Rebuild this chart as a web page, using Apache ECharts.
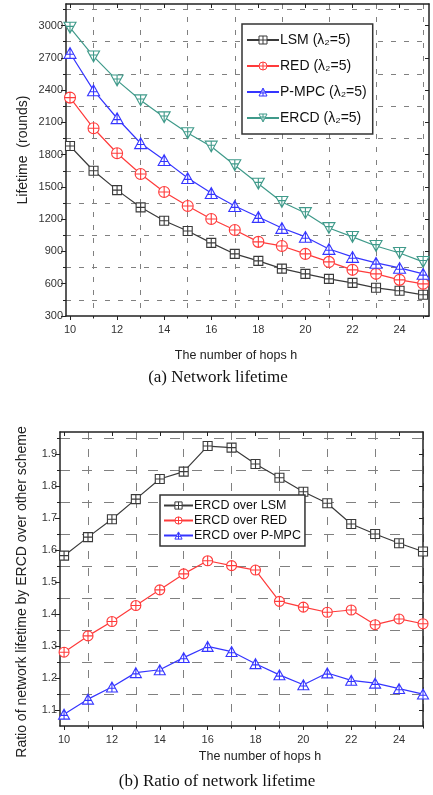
<!DOCTYPE html>
<html>
<head>
<meta charset="utf-8">
<style>
  html, body { margin: 0; padding: 0; background: #fff; }
  #chart { width: 433px; height: 795px; }
</style>
<script src="https://cdn.jsdelivr.net/npm/echarts@6/dist/echarts.min.js"></script>
</head>
<body>
<div id="chart"></div>
<script>
// Number of hops h
const hops = [10, 11, 12, 13, 14, 15, 16, 17, 18, 19, 20, 21, 22, 23, 24, 25];

// (a) Network lifetime, rounds
const lsmLife  = [1880, 1650, 1470, 1310, 1185, 1090, 980, 877, 812, 740, 692, 645, 608, 562, 534, 497];
const redLife  = [2330, 2045, 1813, 1620, 1452, 1322, 1202, 1100, 989, 951, 877, 803, 729, 692, 636, 599];
const pmpcLife = [2745, 2397, 2138, 1906, 1749, 1582, 1443, 1322, 1220, 1118, 1035, 923, 849, 794, 747, 692];
const ercdLife = [2980, 2713, 2490, 2305, 2147, 2000, 1875, 1702, 1530, 1360, 1257, 1118, 1035, 951, 886, 803];

// (b) Ratio of network lifetime by ERCD over the other schemes
const overLsm  = [1.583, 1.641, 1.697, 1.760, 1.823, 1.846, 1.926, 1.921, 1.870, 1.827, 1.783, 1.747, 1.682, 1.651, 1.622, 1.596];
const overRed  = [1.281, 1.332, 1.377, 1.427, 1.476, 1.526, 1.567, 1.552, 1.538, 1.440, 1.422, 1.406, 1.413, 1.367, 1.385, 1.370];
const overPmpc = [1.087, 1.134, 1.172, 1.217, 1.226, 1.264, 1.299, 1.283, 1.245, 1.210, 1.179, 1.216, 1.193, 1.184, 1.167, 1.150];

// Tick labels and grid positions
const hopTicks = [10, 12, 14, 16, 18, 20, 22, 24];
const hopGrid = [11, 13, 15, 17, 19, 21, 23, 25];
const lifeTicks = [300, 600, 900, 1200, 1500, 1800, 2100, 2400, 2700, 3000];
const lifeGrid = [450, 750, 1050, 1350, 1650, 1950, 2250, 2550, 2850, 3150];
const ratioTicks = [1.1, 1.2, 1.3, 1.4, 1.5, 1.6, 1.7, 1.8, 1.9];
const ratioGrid = [1.15, 1.25, 1.35, 1.45, 1.55, 1.65, 1.75, 1.85, 1.95];

const lifeNames = ['LSM (λ₂=5)', 'RED (λ₂=5)', 'P-MPC (λ₂=5)', 'ERCD (λ₂=5)'];
const ratioNames = ['ERCD over LSM', 'ERCD over RED', 'ERCD over P-MPC'];

const FONT = '"Liberation Sans", Arial, sans-serif';
const SERIF = '"Liberation Serif", "Times New Roman", serif';

// hollow markers with a cross inside
const SYM_SQUARE = 'path://M0,0 L10,0 L10,10 L0,10 Z M5,0 L5,10 M0,5 L10,5';
const SYM_CIRCLE = 'path://M0,5 A5,5 0 1,1 10,5 A5,5 0 1,1 0,5 Z M5,0 L5,10 M0,5 L10,5';
const SYM_UP = 'path://M5,0 L10,9 L0,9 Z M5,1 L5,9 M1.6,5.6 L8.4,5.6';
const SYM_DOWN = 'path://M0,0 L10,0 L5,9 Z M5,0 L5,8 M1.6,3.4 L8.4,3.4';

const C_BLACK = '#3a3a3a', C_RED = '#ff3b3b', C_BLUE = '#3535ff', C_TEAL = '#3f9a8a';

function pair(xs, ys) { return xs.map((x, i) => [x, ys[i]]); }

function lineSeries(name, gi, data, color, symbol, size) {
  return {
    type: 'line', name: name, xAxisIndex: gi * 3, yAxisIndex: gi * 3,
    data: data, symbol: symbol, symbolSize: size, symbolKeepAspect: true,
    lineStyle: { color: color, width: 1.2 },
    itemStyle: { color: '#fff', borderColor: color, borderWidth: 1.1 },
    emphasis: { disabled: true }, animation: false, z: 5
  };
}

function xAxes(gi, min, max, dash) {
  return [
    { type: 'value', gridIndex: gi, min: min, max: max, position: 'bottom',
      axisLine: { onZero: false, lineStyle: { color: '#222', width: 1.5 } },
      axisTick: { show: true, customValues: hopTicks, length: 4, lineStyle: { color: '#222' } },
      axisLabel: { customValues: hopTicks, color: '#333', fontSize: 11, fontFamily: FONT, margin: 8 },
      splitLine: { show: false } },
    { type: 'value', gridIndex: gi, min: min, max: max, position: 'bottom',
      axisLine: { show: false },
      axisTick: { show: true, customValues: hopGrid, length: 2.5, lineStyle: { color: '#222' } },
      axisLabel: { show: false },
      splitLine: { show: true, lineStyle: { color: '#808080', width: 1, type: dash } } },
    { type: 'value', gridIndex: gi, min: min, max: max, position: 'top',
      axisLine: { onZero: false, lineStyle: { color: '#222', width: 1.5 } },
      axisTick: { show: true, inside: true, customValues: hopTicks, length: 4, lineStyle: { color: '#222' } },
      axisLabel: { show: false }, splitLine: { show: false } }
  ];
}

function yAxes(gi, min, max, ticks, grid, dash, fmt) {
  return [
    { type: 'value', gridIndex: gi, min: min, max: max, position: 'left',
      axisLine: { show: true, lineStyle: { color: '#222', width: 1.5 } },
      axisTick: { show: true, customValues: ticks, length: 5, lineStyle: { color: '#222' } },
      axisLabel: { customValues: ticks, color: '#333', fontSize: 11, fontFamily: FONT, margin: 3, formatter: fmt },
      splitLine: { show: false } },
    { type: 'value', gridIndex: gi, min: min, max: max, position: 'left',
      axisLine: { show: false },
      axisTick: { show: true, customValues: grid, length: 3, lineStyle: { color: '#222' } },
      axisLabel: { show: false },
      splitLine: { show: true, lineStyle: { color: '#808080', width: 1, type: dash } } },
    { type: 'value', gridIndex: gi, min: min, max: max, position: 'right',
      axisLine: { show: true, lineStyle: { color: '#222', width: 1.5 } },
      axisTick: { show: true, inside: true, customValues: ticks, length: 4, lineStyle: { color: '#222' } },
      axisLabel: { show: false }, splitLine: { show: false } }
  ];
}

function legend(names, left, top, font, gap, symSize, pad, itemW) {
  return {
    data: names, orient: 'vertical', left: left, top: top,
    backgroundColor: '#fff', borderColor: '#333', borderWidth: 1.5, borderRadius: 0,
    padding: pad, itemGap: gap, itemWidth: itemW, itemHeight: symSize,
    itemStyle: { color: '#fff', borderWidth: 1 },
    textStyle: { fontFamily: FONT, fontSize: font, color: '#111', padding: [0, 0, 0, -4] },
    selectedMode: false, z: 10
  };
}

const chart = echarts.init(document.getElementById('chart'), null, { renderer: 'canvas' });

chart.setOption({
  animation: false,
  backgroundColor: '#fff',
  grid: [
    { left: 66, top: 4, width: 363, height: 312 },
    { left: 60, top: 432, width: 363, height: 294 }
  ],
  xAxis: [].concat(
    xAxes(0, 9.83, 25.25, [5, 8]),
    xAxes(1, 9.83, 25, [8, 9])
  ),
  yAxis: [].concat(
    yAxes(0, 300, 3200, lifeTicks, lifeGrid, [5, 8], v => String(v)),
    yAxes(1, 1.05, 1.97, ratioTicks, ratioGrid, [10, 12], v => v.toFixed(1))
  ),
  legend: [
    legend(lifeNames, 242, 24, 14, 12, 10, [9, 6, 9, 4], 32),
    legend(ratioNames, 160, 495, 12.5, 2, 9, [4, 4, 4, 3], 29)
  ],
  series: [
    lineSeries(lifeNames[0], 0, pair(hops, lsmLife), C_BLACK, SYM_SQUARE, 9),
    lineSeries(lifeNames[1], 0, pair(hops, redLife), C_RED, SYM_CIRCLE, 11),
    lineSeries(lifeNames[2], 0, pair(hops, pmpcLife), C_BLUE, SYM_UP, 12),
    lineSeries(lifeNames[3], 0, pair(hops, ercdLife), C_TEAL, SYM_DOWN, 12),
    lineSeries(ratioNames[0], 1, pair(hops, overLsm), C_BLACK, SYM_SQUARE, 9),
    lineSeries(ratioNames[1], 1, pair(hops, overRed), C_RED, SYM_CIRCLE, 10),
    lineSeries(ratioNames[2], 1, pair(hops, overPmpc), C_BLUE, SYM_UP, 11)
  ],
  graphic: [
    { type: 'text', x: 23, y: 150, rotation: Math.PI / 2,
      style: { text: 'Lifetime  (rounds)', font: '14px ' + FONT, fill: '#222', textAlign: 'center', textVerticalAlign: 'middle' } },
    { type: 'text', x: 236, y: 356,
      style: { text: 'The number of hops h', font: '12.5px ' + FONT, fill: '#222', textAlign: 'center', textVerticalAlign: 'middle' } },
    { type: 'text', x: 218, y: 378,
      style: { text: '(a) Network lifetime', font: '17px ' + SERIF, fill: '#111', textAlign: 'center', textVerticalAlign: 'middle' } },
    { type: 'text', x: 22, y: 592, rotation: Math.PI / 2,
      style: { text: 'Ratio of network lifetime by ERCD over other scheme', font: '14px ' + FONT, fill: '#222', textAlign: 'center', textVerticalAlign: 'middle' } },
    { type: 'text', x: 260, y: 757,
      style: { text: 'The number of hops h', font: '12.5px ' + FONT, fill: '#222', textAlign: 'center', textVerticalAlign: 'middle' } },
    { type: 'text', x: 217, y: 782,
      style: { text: '(b) Ratio of network lifetime', font: '17px ' + SERIF, fill: '#111', textAlign: 'center', textVerticalAlign: 'middle' } }
  ]
});
</script>
</body>
</html>
